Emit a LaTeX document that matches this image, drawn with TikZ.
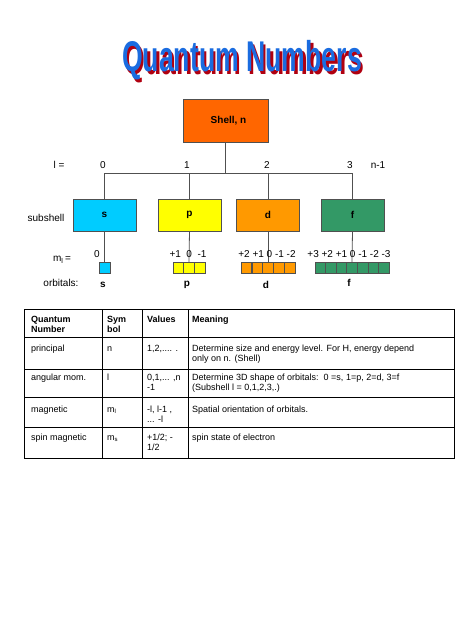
\documentclass[tikz,border=0pt]{standalone}
\usepackage{fontspec}
\setmainfont{Liberation Sans}
\definecolor{shellor}{HTML}{FF6600}
\definecolor{scol}{HTML}{00CCFF}
\definecolor{pcol}{HTML}{FFFF00}
\definecolor{dcol}{HTML}{FF9900}
\definecolor{fcol}{HTML}{339966}
\definecolor{titleblue}{HTML}{1A6CE0}
\definecolor{titlered}{HTML}{B00010}
\definecolor{edgegrey}{HTML}{505050}
\begin{document}
\begin{tikzpicture}[x=1pt,y=-1pt,
  lbl/.style={font=\fontsize{10}{12}\selectfont, inner sep=0},
  blbl/.style={font=\bfseries\fontsize{10}{12}\selectfont, inner sep=0},
  subbox/.style={draw=edgegrey, line width=0.8pt, minimum width=63pt, minimum height=32pt, inner sep=0, font=\bfseries\fontsize{10}{12}\selectfont},
  orb/.style={draw=edgegrey, line width=0.6pt, minimum size=10.7pt, inner sep=0},
  conn/.style={draw=edgegrey, line width=0.8pt},
  cell/.style={font=\fontsize{9}{10}\selectfont, anchor=base west, align=left, inner sep=0},
  hcell/.style={cell, font=\bfseries\fontsize{9}{10}\selectfont},
  grid/.style={draw=black, line width=0.7pt},
  titlefont/.style={font=\bfseries\fontsize{43}{43}\selectfont, xscale=0.62, inner sep=0}
]
\useasboundingbox (0,0) rectangle (474,632);

% title
\node[titlefont, text=titlered] (titleshadow) at (244.5,63) {Quantum Numbers};
\node[titlefont, text=titleblue] (title) at (242,60.5) {Quantum Numbers};

% shell
\node[draw=edgegrey, line width=0.8pt, fill=shellor, minimum width=85pt, minimum height=43pt,
  font=\bfseries\fontsize{10}{12}\selectfont] (shell) at (225.5,120.5) {\hspace{6pt}Shell, n};

% subshells
\node[subbox, fill=scol] (s) at (104.5,215) {s};
\node[subbox, fill=pcol] (p) at (189.5,215) {p};
\node[subbox, fill=dcol] (d) at (268,215) {d};
\node[subbox, fill=fcol] (f) at (352.5,215) {f};

% orbitals
\node[orb, fill=scol] (s1) at (104.5,267.5) {};
\foreach \i in {1,2,3} \node[orb, fill=pcol] (p\i) at ({189+(\i-2)*10.67},267.5) {};
\foreach \i in {1,...,5} \node[orb, fill=dcol] (d\i) at ({268+(\i-3)*10.8},267.5) {};
\foreach \i in {1,...,7} \node[orb, fill=fcol] (f\i) at ({352+(\i-4)*10.6},267.5) {};

% connectors
\coordinate (barL) at (104.5,173);
\coordinate (barR) at (352.5,173);
\draw[conn] (shell.south) -- (shell.south |- barL);
\draw[conn] (barL) -- (barR);
\draw[conn] (s.north) -- (s.north |- barL);
\draw[conn] (p.north) -- (p.north |- barL);
\draw[conn] (d.north) -- (d.north |- barL);
\draw[conn] (f.north) -- (f.north |- barL);
\draw[conn] (s.south) -- (s1.north);
\draw[conn] (p.south) -- (p2.north);
\draw[conn] (d.south) -- (d3.north);
\draw[conn] (f.south) -- (f4.north);

% l labels
\node[lbl] (leq) at (59,165) {l =};
\node[lbl] (l0) at (103,165) {0};
\node[lbl] (l1) at (187,165) {1};
\node[lbl] (l2) at (267,165) {2};
\node[lbl] (l3) at (350,165) {3};
\node[lbl] (ln) at (378,165) {n-1};
\node[lbl] (subl) at (46,218) {subshell};

% ml labels
\node[lbl] (mleq) at (62,260) {m\textsubscript{l}\,=};
\node[lbl] (orbl) at (61,283) {orbitals:};
\node[lbl] (mls) at (97,254) {0};
\node[lbl] (mlp) at (188,254) {+1~~0~~-1};
\node[lbl] (mld) at (267,254) {+2 +1 0 -1 -2};
\node[lbl] (mlf) at (349,254) {+3 +2 +1 0 -1 -2 -3};

\node[blbl] (os) at (103,285) {s};
\node[blbl] (op) at (187,285) {p};
\node[blbl] (od) at (266,285) {d};
\node[blbl] (of) at (349,283) {f};

% table
\draw[grid] (24,309) rectangle (454,458);
\foreach \yy in {337,369,397,427} \draw[grid] (24,\yy) -- (454,\yy);
\foreach \xx in {102,142,188} \draw[grid] (\xx,309) -- (\xx,458);

% (base anchor of a two-line cell is the baseline of its last line)
\node[hcell] (h1) at (31,332) {Quantum\\Number};
\node[hcell] (h2) at (107,332) {Sym\\bol};
\node[hcell] (h3) at (147,322) {Values};
\node[hcell] (h4) at (192,322) {Meaning};

\node[cell] (r1a) at (31,351) {principal};
\node[cell] (r1b) at (107,351) {n};
\node[cell] (r1c) at (147,351) {1,2,.... .};
\node[cell] (r1d) at (192,361) {Determine size and energy level. For H, energy depend\\only on n.  (Shell)};

\node[cell] (r2a) at (31,380) {angular mom.};
\node[cell] (r2b) at (107,380) {l};
\node[cell] (r2c) at (147,390) {0,1,... ,n\\-1};
\node[cell] (r2d) at (192,390) {Determine 3D shape of orbitals:\ \ 0 =s, 1=p, 2=d, 3=f\\(Subshell l = 0,1,2,3,.)};

\node[cell] (r3a) at (31,412) {magnetic};
\node[cell] (r3b) at (107,412) {m\textsubscript{l}};
\node[cell] (r3c) at (147,422) {-l, l-1 ,\\... -l};
\node[cell] (r3d) at (192,412) {Spatial orientation of orbitals.};

\node[cell] (r4a) at (31,440) {spin magnetic};
\node[cell] (r4b) at (107,440) {m\textsubscript{s}};
\node[cell] (r4c) at (147,450) {+1/2; -\\1/2};
\node[cell] (r4d) at (192,440) {spin state of electron};
\end{tikzpicture}
\end{document}
